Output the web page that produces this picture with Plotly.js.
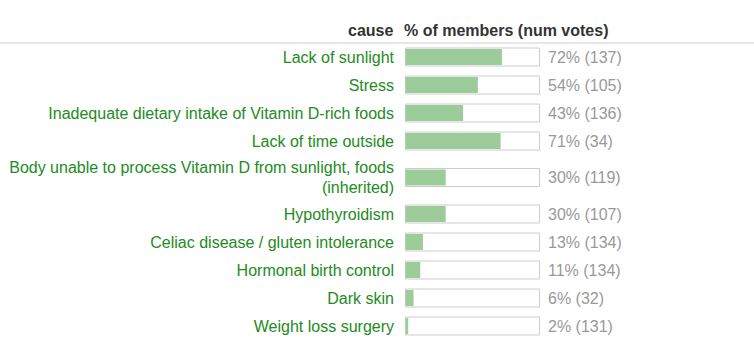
<!DOCTYPE html>
<html>
<head>
<meta charset="utf-8">
<script src="https://cdn.plot.ly/plotly-3.0.1.min.js"></script>
<style>html,body{margin:0;padding:0;background:#fff;}#chart{width:754px;height:356px;}</style>
</head>
<body>
<div id="chart"></div>
<script>
const causes = [
  "Lack of sunlight",
  "Stress",
  "Inadequate dietary intake of Vitamin D-rich foods",
  "Lack of time outside",
  "Body unable to process Vitamin D from sunlight, foods<br>(inherited)",
  "Hypothyroidism",
  "Celiac disease / gluten intolerance",
  "Hormonal birth control",
  "Dark skin",
  "Weight loss surgery"
];
const percents = [72, 54, 43, 71, 30, 30, 13, 11, 6, 2];
const votes = [137, 105, 136, 34, 119, 107, 134, 134, 32, 131];
const headerLeft = "cause";
const headerRight = "% of members (num votes)";

// Row layout: rows with two text lines are taller
const ROW = 28, EXTRA = 17, BAR_H = 18;
const centers = [];
let rowTop = 0;
causes.forEach(c => {
  const lines = c.split("<br>").length;
  const h = ROW + (lines - 1) * EXTRA;
  centers.push(rowTop + h / 2);
  rowTop += h;
});

const W = 754, H = 356, L = 405, R = 214, T = 43, B = 0;
const plotH = H - T - B;
const FONT = "Liberation Sans, Arial, sans-serif";

const outline = {
  type: "bar", orientation: "h",
  x: causes.map(() => 100), y: centers, width: BAR_H,
  marker: {color: "#ffffff", line: {color: "#cccccc", width: 1}},
  hoverinfo: "skip", showlegend: false
};
const fill = {
  type: "bar", orientation: "h",
  x: percents, y: centers, width: BAR_H - 2,
  marker: {color: "#9dcc9b", line: {width: 0}},
  hoverinfo: "skip", showlegend: false
};

const annotations = percents.map((p, i) => ({
  x: 100, y: centers[i], xref: "x", yref: "y",
  text: p + "% (" + votes[i] + ")", showarrow: false,
  xanchor: "left", xshift: 7,
  font: {family: FONT, size: 16, color: "#999999"}
}));
annotations.push({
  x: 0, y: 1, xref: "paper", yref: "paper", yanchor: "bottom", yshift: 2,
  xanchor: "right", xshift: -10, showarrow: false, text: "<b>" + headerLeft + "</b>",
  font: {family: FONT, size: 16, color: "#333333"}
});
annotations.push({
  x: 0, y: 1, xref: "paper", yref: "paper", yanchor: "bottom", yshift: 2,
  xanchor: "left", xshift: -3, showarrow: false, text: "<b>" + headerRight + "</b>",
  font: {family: FONT, size: 16, color: "#333333"}
});

const plotW = W - L - R;
const layout = {
  width: W, height: H,
  margin: {l: L, r: R, t: T, b: B, pad: 0},
  paper_bgcolor: "#ffffff", plot_bgcolor: "#ffffff",
  barmode: "overlay",
  xaxis: {range: [-0.4, 100.4], visible: false, fixedrange: true},
  yaxis: {
    range: [plotH, 0], tickvals: centers, ticktext: causes,
    showgrid: false, zeroline: false, showline: false, ticks: "",
    ticklabelstandoff: 10,
    tickfont: {family: FONT, size: 16, color: "#228b22"},
    fixedrange: true
  },
  shapes: [{
    type: "line", xref: "paper", yref: "paper",
    x0: -L / plotW, x1: (W - L) / plotW, y0: 1, y1: 1,
    line: {color: "#cccccc", width: 1}
  }],
  annotations: annotations,
  showlegend: false
};

Plotly.newPlot("chart", [outline, fill], layout, {displayModeBar: false, staticPlot: true});
</script>
</body>
</html>
